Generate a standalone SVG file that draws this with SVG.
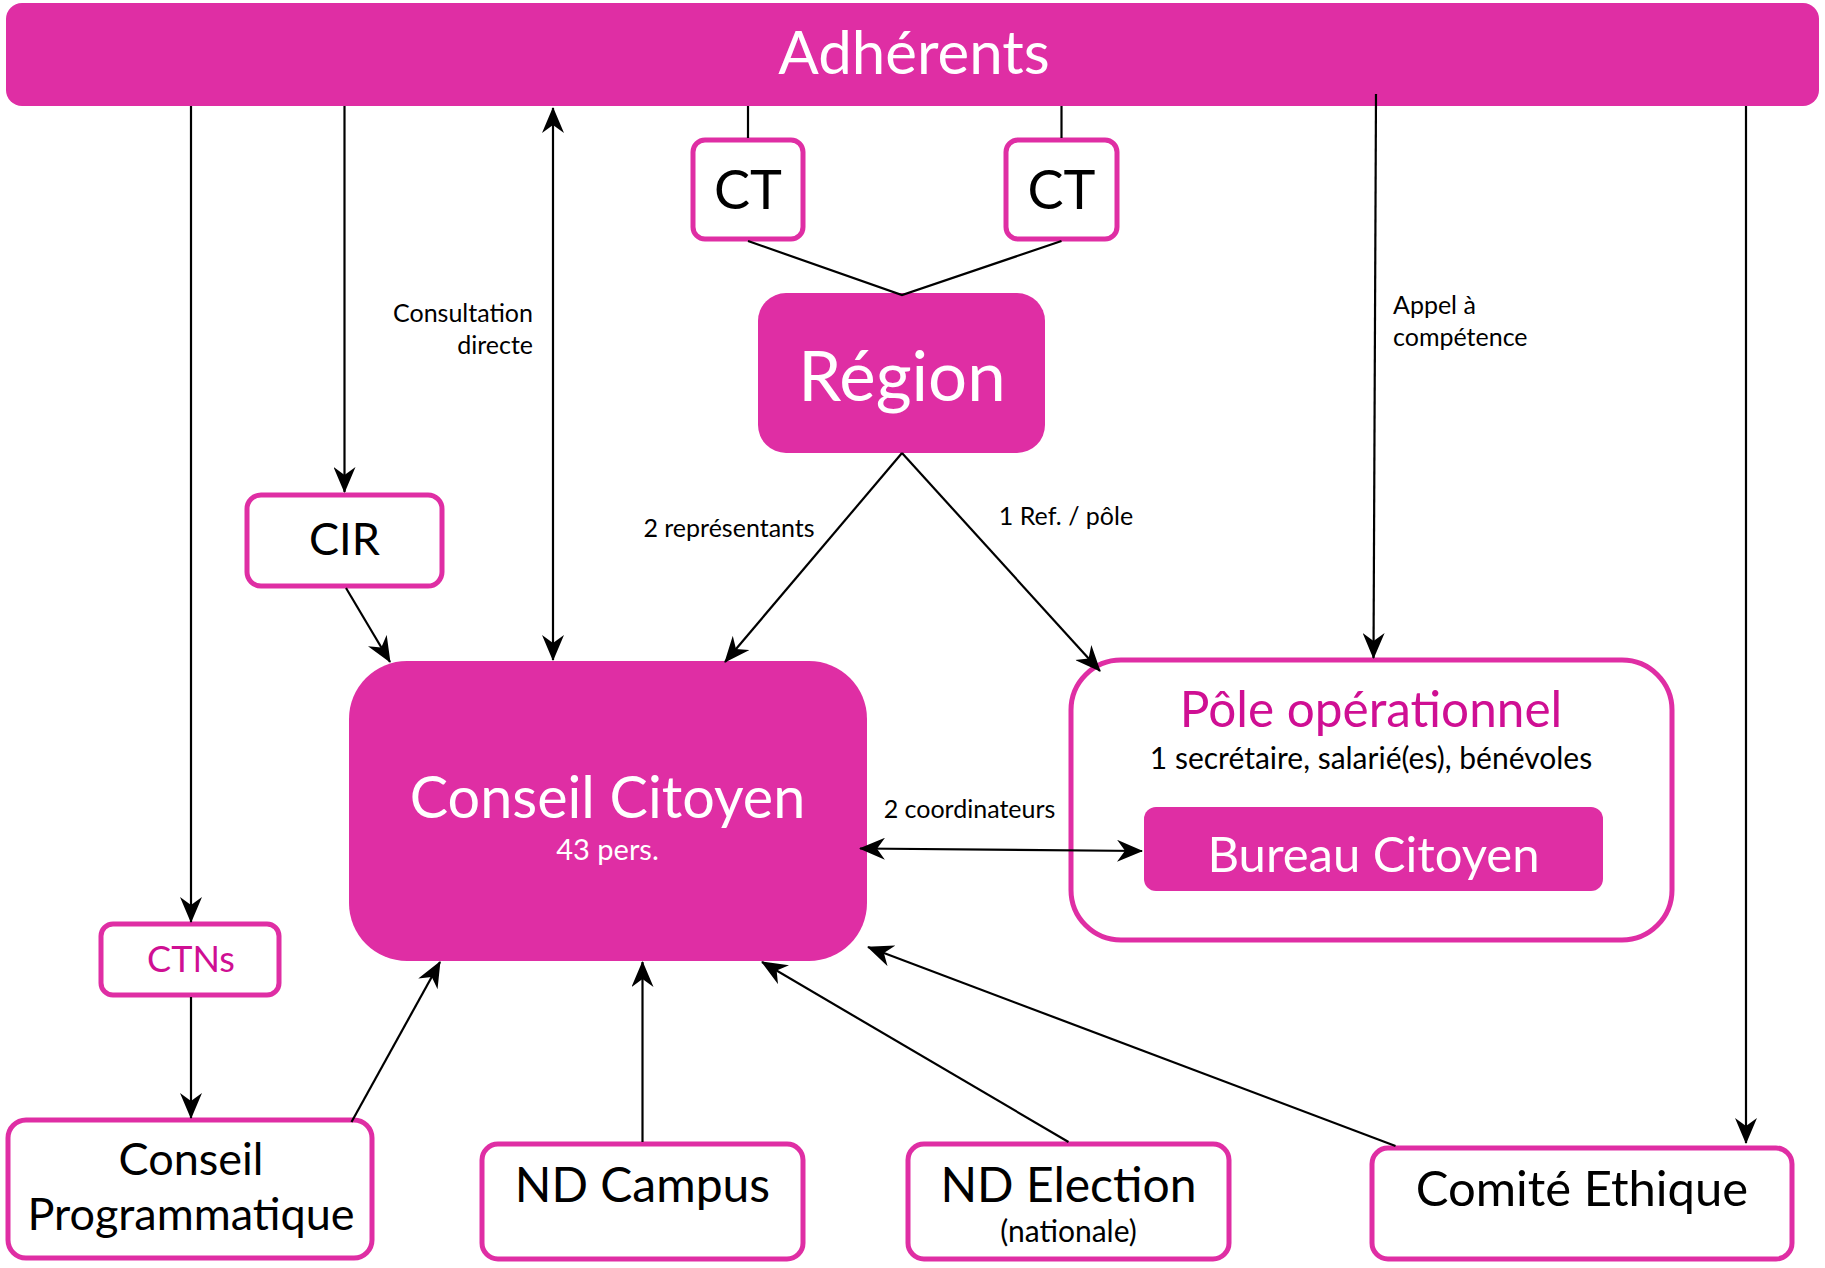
<svg xmlns="http://www.w3.org/2000/svg" width="1825" height="1268" viewBox="0 0 1825 1268">
<style>
.fill{fill:#df2ea4}
.box{fill:#fff;stroke:#df2ea4;stroke-width:5}
.t{font-family:Lato,"Open Sans","DejaVu Sans",sans-serif;text-anchor:middle}
.w{fill:#fff}
.k{fill:#000}
.p{fill:#cf0f93}
.lab{font-family:Lato,"Open Sans","DejaVu Sans",sans-serif;font-size:25px;fill:#000}
.c{fill:none;stroke:#000;stroke-width:2.2}
</style>
<defs>
<marker id="ah" markerUnits="userSpaceOnUse" markerWidth="26" markerHeight="22" refX="25" refY="11" orient="auto-start-reverse">
<path d="M0,0 L26,11 L0,22 L8,11 z" fill="#000"/>
</marker>
</defs>
<rect width="1825" height="1268" fill="#fff"/>

<g id="adherents">
<rect class="fill" x="6" y="3" width="1813" height="103" rx="16"/>
<text class="t w" x="914" y="74" font-size="60">Adhérents</text>
</g>
<g id="ct1">
<rect class="box" x="693" y="140" width="110" height="99" rx="12"/>
<text class="t k" x="748" y="209" font-size="54">CT</text>
</g>
<g id="ct2">
<rect class="box" x="1006" y="140" width="111" height="99" rx="12"/>
<text class="t k" x="1061.5" y="209" font-size="54">CT</text>
</g>
<g id="region">
<rect class="fill" x="758" y="293" width="287" height="160" rx="28"/>
<text class="t w" x="902" y="401" font-size="69">Région</text>
</g>
<g id="cir">
<rect class="box" x="247" y="495" width="195" height="91" rx="14"/>
<text class="t k" x="344.5" y="555" font-size="45">CIR</text>
</g>
<g id="conseil-citoyen">
<rect class="fill" x="349" y="661" width="518" height="300" rx="58"/>
<text class="t w" x="607.5" y="818" font-size="57.5">Conseil Citoyen</text>
<text class="t w" x="607.5" y="860" font-size="29">43 pers.</text>
</g>
<g id="pole-operationnel">
<rect class="box" x="1071" y="660" width="601" height="280" rx="50"/>
<text class="t p" x="1371" y="727" font-size="49.5">Pôle opérationnel</text>
<text class="t k" x="1371" y="769" font-size="30">1 secrétaire, salarié(es), bénévoles</text>
</g>
<g id="bureau-citoyen">
<rect class="fill" x="1144" y="807" width="459" height="84" rx="12"/>
<text class="t w" x="1373.5" y="872" font-size="49">Bureau Citoyen</text>
</g>
<g id="ctns">
<rect class="box" x="101" y="924" width="178" height="71" rx="12"/>
<text class="t p" x="191" y="972" font-size="36">CTNs</text>
</g>
<g id="conseil-programmatique">
<rect class="box" x="8" y="1120" width="364" height="138" rx="18"/>
<text class="t k" x="191" y="1175" font-size="45">Conseil</text>
<text class="t k" x="191" y="1230" font-size="45">Programmatique</text>
</g>
<g id="nd-campus">
<rect class="box" x="482" y="1144" width="321" height="115" rx="16"/>
<text class="t k" x="642.5" y="1202" font-size="48">ND Campus</text>
</g>
<g id="nd-election">
<rect class="box" x="908" y="1144" width="321" height="115" rx="16"/>
<text class="t k" x="1068.5" y="1202" font-size="48">ND Election</text>
<text class="t k" x="1068.5" y="1242" font-size="30">(nationale)</text>
</g>
<g id="comite-ethique">
<rect class="box" x="1372" y="1148" width="420" height="111" rx="16"/>
<text class="t k" x="1582" y="1206" font-size="49">Comité Ethique</text>
</g>

<g id="connectors">
<line class="c" x1="191" y1="106" x2="191" y2="922" marker-end="url(#ah)"/>
<line class="c" x1="344.5" y1="106" x2="344.5" y2="492" marker-end="url(#ah)"/>
<line class="c" x1="553" y1="108" x2="553" y2="660" marker-start="url(#ah)" marker-end="url(#ah)"/>
<line class="c" x1="748" y1="106" x2="748" y2="138"/>
<line class="c" x1="1061.5" y1="106" x2="1061.5" y2="138"/>
<polyline class="c" points="748,241 902,295 1061.5,241"/>
<line class="c" x1="902" y1="453" x2="725" y2="662" marker-end="url(#ah)"/>
<line class="c" x1="902" y1="453" x2="1100" y2="671" marker-end="url(#ah)"/>
<line class="c" x1="1376" y1="94" x2="1373.5" y2="658" marker-end="url(#ah)"/>
<line class="c" x1="1746" y1="106" x2="1746" y2="1143" marker-end="url(#ah)"/>
<line class="c" x1="346" y1="588" x2="390" y2="662" marker-end="url(#ah)"/>
<line class="c" x1="191" y1="997" x2="191" y2="1118" marker-end="url(#ah)"/>
<line class="c" x1="351.5" y1="1122" x2="440" y2="962" marker-end="url(#ah)"/>
<line class="c" x1="642.5" y1="1142" x2="642.5" y2="962" marker-end="url(#ah)"/>
<line class="c" x1="1068.5" y1="1142" x2="762" y2="962" marker-end="url(#ah)"/>
<line class="c" x1="1395.5" y1="1146" x2="868" y2="947" marker-end="url(#ah)"/>
<line class="c" x1="860" y1="848.5" x2="1142" y2="851" marker-start="url(#ah)" marker-end="url(#ah)"/>
<text class="lab" x="533" y="322" text-anchor="end">Consultation</text>
<text class="lab" x="533" y="354" text-anchor="end">directe</text>
<text class="lab" x="729" y="537" text-anchor="middle">2 représentants</text>
<text class="lab" x="1066" y="525" text-anchor="middle">1 Ref. / pôle</text>
<text class="lab" x="1393" y="314">Appel à</text>
<text class="lab" x="1393" y="346">compétence</text>
<text class="lab" x="969.5" y="818" text-anchor="middle">2 coordinateurs</text>
</g>
</svg>
